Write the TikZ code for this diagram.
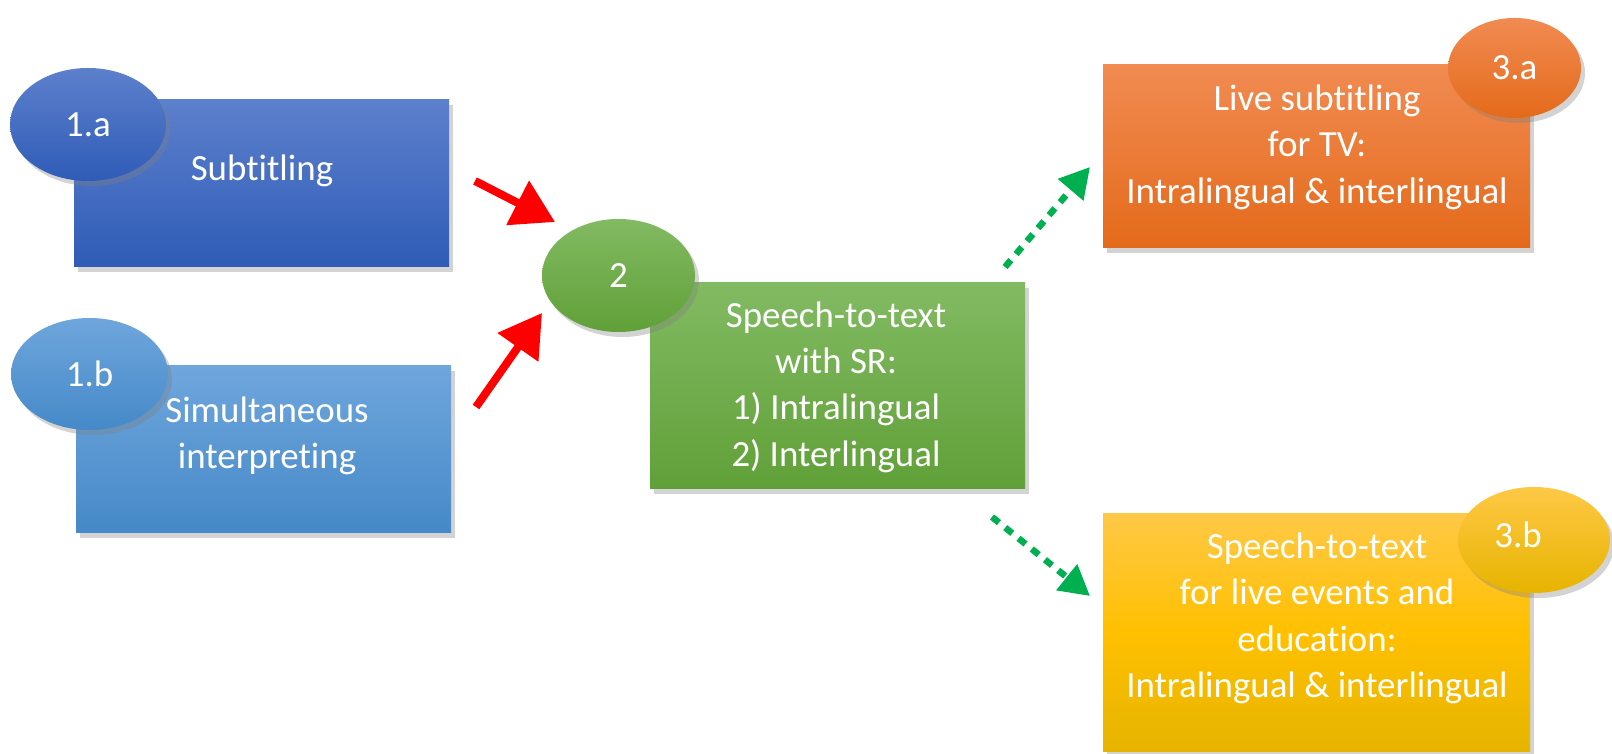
\documentclass[tikz,border=0pt]{standalone}
\usepackage{fontspec}
\setmainfont{Carlito}[Ligatures=NoCommon]
\usepackage{tikz}
\usetikzlibrary{shapes.geometric,shadows,arrows.meta}
\definecolor{bluetop}{RGB}{93,128,204}
\definecolor{bluebot}{RGB}{47,92,183}
\definecolor{skytop}{RGB}{111,166,220}
\definecolor{skybot}{RGB}{69,137,200}
\definecolor{leaftop}{RGB}{130,186,98}
\definecolor{leafbot}{RGB}{96,160,56}
\definecolor{orangetop}{RGB}{241,139,82}
\definecolor{orangebot}{RGB}{228,106,26}
\definecolor{goldtop}{RGB}{255,200,70}
\definecolor{goldmid}{RGB}{255,192,0}
\definecolor{goldbot}{RGB}{230,180,0}
\definecolor{arrowgreen}{RGB}{0,176,80}
\tikzset{%
    box/.style={rectangle, inner sep=0pt,
        drop shadow={shadow xshift=0.04cm, shadow yshift=-0.05cm, opacity=0.35}},
    oval/.style={ellipse, inner sep=0pt, text=white,
        font=\fontsize{10.5}{13.2}\selectfont,
        drop shadow={shadow xshift=0.04cm, shadow yshift=-0.05cm, opacity=0.35}},
    txt/.style={text=white, align=center, font=\fontsize{10.5}{13.2}\selectfont},
    redarrow/.style={red, line width=0.08cm,
        -{Triangle[length=0.42cm,width=0.48cm]}},
    greenarrow/.style={arrowgreen, line width=0.065cm,
        dash pattern=on 0.09cm off 0.08cm,
        -{Triangle[length=0.3cm,width=0.32cm]}}
}

\begin{document}
\begin{tikzpicture}
    \useasboundingbox (0,0) rectangle (16.12,7.54);
%-----------------------------------------------
    \node[box, top color=bluetop, bottom color=bluebot,
        minimum width=3.75cm, minimum height=1.67cm] (sub) at (2.615,5.705) {};
    \node[box, top color=skytop, bottom color=skybot,
        minimum width=3.75cm, minimum height=1.67cm] (sim) at (2.635,3.045) {};
    \node[box, top color=leaftop, bottom color=leafbot,
        minimum width=3.75cm, minimum height=2.06cm] (stt) at (8.375,3.68) {};
    \node[box, top color=orangetop, bottom color=orangebot,
        minimum width=4.27cm, minimum height=1.83cm] (tv) at (13.165,5.975) {};
    \node[box, top color=goldtop, bottom color=goldbot, middle color=goldmid,
        minimum width=4.27cm, minimum height=2.38cm] (ev) at (13.165,1.21) {};
%-----------------------------------------------
    \node[txt] (subtxt) at (2.62,5.83) {Subtitling};
    \node[txt] (simtxt) at (2.67,3.18) {Simultaneous\\interpreting};
    \node[txt] (stttxt) at (8.36,3.67) {Speech-to-text\\with SR:\\1) Intralingual\\2) Interlingual};
    \node[txt] (tvtxt) at (13.17,6.07) {Live subtitling\\for TV:\\Intralingual \& interlingual};
    \node[txt] (evtxt) at (13.17,1.355) {Speech-to-text\\for live events and\\education:\\Intralingual \& interlingual};
%-----------------------------------------------
    \node[oval, top color=bluetop, bottom color=bluebot,
        minimum width=1.56cm, minimum height=1.13cm] (n1a) at (0.88,6.295) {1.a};
    \node[oval, top color=skytop, bottom color=skybot,
        minimum width=1.57cm, minimum height=1.12cm] (n1b) at (0.895,3.80) {1.b};
    \node[oval, top color=leaftop, bottom color=leafbot,
        minimum width=1.53cm, minimum height=1.13cm] (n2) at (6.185,4.785) {2};
    \node[oval, top color=orangetop, bottom color=orangebot,
        minimum width=1.33cm, minimum height=1.0cm] (n3a) at (15.145,6.86) {3.a};
    \node[oval, top color=goldtop, bottom color=goldbot,
        minimum width=1.52cm, minimum height=1.06cm,
        label={[txt,xshift=-0.16cm,yshift=0.05cm]center:3.b}] (n3b) at (15.34,2.14) {};
%-----------------------------------------------
    \coordinate (subout) at (4.75,5.73);
    \coordinate (simout) at (4.76,3.47);
    \coordinate (twoinA) at (5.55,5.32);
    \coordinate (twoinB) at (5.42,4.41);
    \coordinate (sttoutA) at (10.05,4.87);
    \coordinate (sttoutB) at (9.92,2.37);
    \coordinate (tvin) at (10.90,5.87);
    \coordinate (evin) at (10.90,1.58);
%-----------------------------------------------
    \draw[redarrow] (subout)--(twoinA);
    \draw[redarrow] (simout)--(twoinB);
    \draw[greenarrow] (sttoutA)--(tvin);
    \draw[greenarrow] (sttoutB)--(evin);
\end{tikzpicture}
\end{document}
